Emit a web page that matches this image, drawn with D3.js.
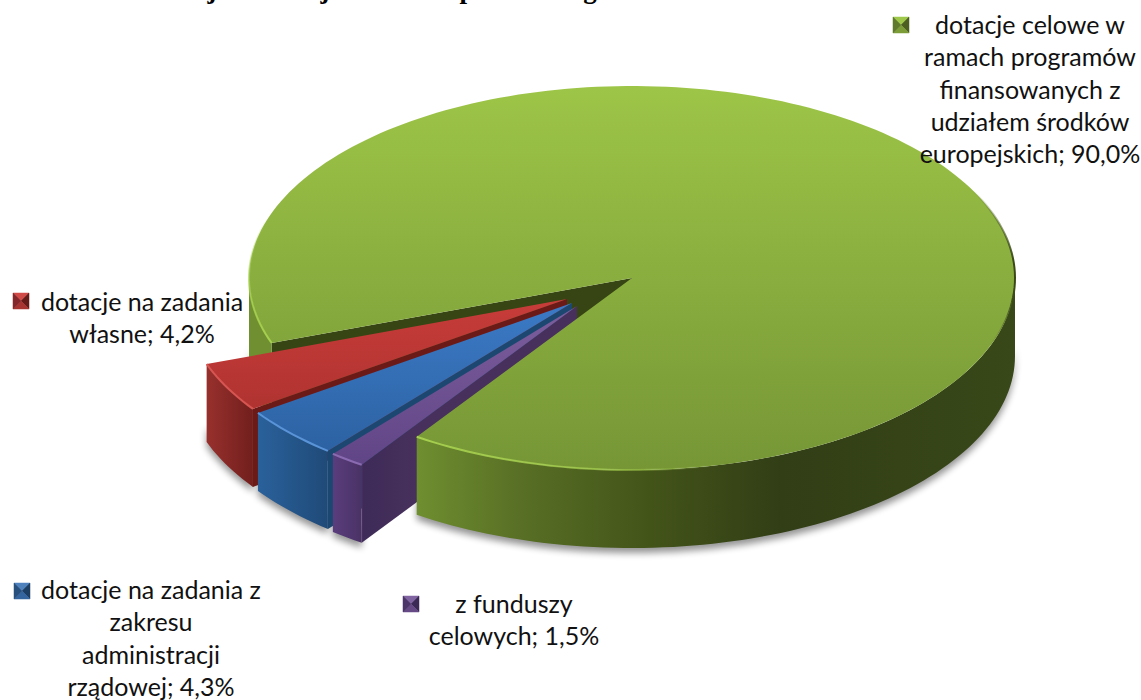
<!DOCTYPE html>
<html>
<head>
<meta charset="utf-8">
<script src="https://cdn.jsdelivr.net/npm/d3@7"></script>
<style>
	html, body { margin: 0; padding: 0; background: #fff; overflow: hidden; }
	svg { display: block; }
	text { font-family: Lato, "Open Sans", sans-serif; fill: #111; }
</style>
</head>
<body>
<svg id="chart" width="1141" height="700"></svg>
<script>
// Chart data. Order follows the pie clockwise.
slice_names = ["celowe", "fundusze", "rzadowe", "wlasne"];
slice_values = [90.0, 1.5, 4.3, 4.2];
slice_labels = [
	["dotacje celowe w", "ramach programów", "finansowanych z", "udziałem środków", "europejskich; 90,0%"],
	["z funduszy", "celowych; 1,5%"],
	["dotacje na zadania z", "zakresu", "administracji", "rządowej; 4,3%"],
	["dotacje na zadania", "własne; 4,2%"]
];
// only the bottoms of these title letters are left in the picture
title_letters = ["j", "j", "p", "g"];

settings = {
	width: 1141,
	height: 700,
	cx: 632,
	cy: 278,
	rx: 383,
	ry: 192,
	depth: 78,
	start_angle: 250.2,
	font_size: 25,
	line_height: 32.3,
	swatch: 16
};

// how far each slice is pulled out of the pie (dx, dy)
explode = { celowe: [0, 0], fundusze: [-55, 28], rzadowe: [-60, 25], wlasne: [-65, 21] };

colors = {
	celowe: { top: ["#9dc547", "#769636"], side: [[415, "#6f8f30"], [520, "#586f25"], [650, "#435419"], [780, "#323e16"], [1015, "#384818"]], wall: "#374514", rim: "#a6d04e", swatch: ["#9fc84a", "#7c9c38", "#4c5f1f", "#5f7a2a"] },
	fundusze: { top: ["#80609f", "#5f4485"], side: [[332, "#5a3d7e"], [362, "#4a3264"], [363, "#3e2b57"], [415, "#47305c"]], wall: "#3e2b57", rim: "#8a6bb0", swatch: ["#8064a2", "#654a86", "#3b2a55", "#4b3569"] },
	rzadowe: { top: ["#3d7cc9", "#2a5f9e"], side: [[258, "#2a619b"], [328, "#1f4a78"]], wall: "#1c4770", rim: "#5a94d8", swatch: ["#4f81bd", "#34659f", "#1d3f66", "#28507f"] },
	wlasne: { top: ["#c93d3a", "#a32e2c"], side: [[207, "#97302d"], [253, "#721f1d"]], wall: "#6c1a18", rim: "#d65552", swatch: ["#d04b48", "#a83431", "#661b19", "#85272a"] }
};

label_places = {
	celowe: { x: 1030, y: 34, sx: 893, sy: 17 },
	fundusze: { x: 514, y: 613, sx: 403, sy: 596 },
	rzadowe: { x: 151, y: 599, sx: 14, sy: 583 },
	wlasne: { x: 142, y: 311, sx: 13, sy: 293 }
};

title_places = [212, 325, 467, 590];

rad = d => d * Math.PI / 180;
deg = r => r * 180 / Math.PI;

svg = d3.select("#chart");
defs = svg.append("defs");

defs.append("filter").attr("id", "soft")
	.attr("x", "-10%").attr("y", "-10%").attr("width", "120%").attr("height", "120%")
	.append("feGaussianBlur").attr("stdDeviation", 3.5);
defs.append("filter").attr("id", "soft_rim")
	.attr("filterUnits", "userSpaceOnUse")
	.attr("x", 0).attr("y", 0).attr("width", settings.width).attr("height", settings.height)
	.append("feGaussianBlur").attr("stdDeviation", 0.7);

function fade_gradient(id, color, x1, y1, x2, y2, stops) {
	grad = defs.append("linearGradient").attr("id", id)
		.attr("gradientUnits", "userSpaceOnUse")
		.attr("x1", x1).attr("y1", y1).attr("x2", x2).attr("y2", y2);
	stops.forEach(s => {
		grad.append("stop").attr("offset", s[0]).attr("stop-color", color).attr("stop-opacity", s[1]);
	});
}
fade_gradient("rim_front", colors.celowe.rim, 415, 0, 720, 0, [[0, 1], [0.6, 0.7], [1, 0]]);
fade_gradient("rim_left", colors.celowe.rim, 0, 345, 0, 215, [[0, 1], [0.5, 0.7], [1, 0]]);
fade_gradient("rim_right", "#3a4a18", 0, 190, 0, 345, [[0, 0], [0.45, 1], [0.7, 1], [1, 0]]);

// unit circle -> flattened ellipse
x_scale = d3.scaleLinear().domain([-1, 1]).range([settings.cx - settings.rx, settings.cx + settings.rx]);
y_scale = d3.scaleLinear().domain([-1, 1]).range([settings.cy - settings.ry, settings.cy + settings.ry]);

function project(angle, off) {
	return [x_scale(Math.sin(angle)) + off[0], y_scale(-Math.cos(angle)) + off[1]];
}

line = d3.line();

function rim_points(a0, a1, off, dy) {
	steps = Math.max(2, Math.ceil(deg(a1 - a0) / 1.5));
	return d3.range(steps + 1).map(i => {
		p = project(a0 + (a1 - a0) * i / steps, off);
		return [p[0], p[1] + dy];
	});
}

function add_gradients(name) {
	c = colors[name];
	top_grad = defs.append("linearGradient").attr("id", "top_" + name)
		.attr("gradientUnits", "userSpaceOnUse")
		.attr("x1", 0).attr("x2", 0)
		.attr("y1", name == "celowe" ? 88 : 290)
		.attr("y2", 470);
	top_grad.append("stop").attr("offset", 0).attr("stop-color", c.top[0]);
	top_grad.append("stop").attr("offset", 1).attr("stop-color", c.top[1]);

	xs = c.side.map(s => s[0]);
	x0 = xs[0];
	x1 = xs[xs.length - 1];
	side_grad = defs.append("linearGradient").attr("id", "side_" + name)
		.attr("gradientUnits", "userSpaceOnUse")
		.attr("x1", x0).attr("x2", x1).attr("y1", 0).attr("y2", 0);
	c.side.forEach(s => {
		side_grad.append("stop").attr("offset", (s[0] - x0) / (x1 - x0)).attr("stop-color", s[1]);
	});
}

slice_names.forEach(add_gradients);

pie = d3.pie().sort(null).value(d => d)
	.startAngle(rad(settings.start_angle))
	.endAngle(rad(settings.start_angle + 360));
arcs = pie(slice_values);
arcs.forEach((d, i) => { d.name = slice_names[i]; d.off = explode[d.name]; });

// the visible front parts of the outer wall
function front_parts(d) {
	parts = [];
	[0, 1].forEach(k => {
		lo = Math.max(d.startAngle, rad(90 + 360 * k));
		hi = Math.min(d.endAngle, rad(270 + 360 * k));
		if (hi > lo) parts.push([lo, hi]);
	});
	return parts;
}

function draw_side(g, d, lo, hi) {
	top_edge = rim_points(lo, hi, d.off, 0);
	bottom_edge = rim_points(lo, hi, d.off, settings.depth).reverse();
	g.append("path")
		.attr("d", line(top_edge.concat(bottom_edge)) + "Z")
		.attr("fill", "url(#side_" + d.name + ")");
}

function draw_wall(g, d) {
	apex = [settings.cx + d.off[0], settings.cy + d.off[1]];
	edge = project(d.startAngle, d.off);
	g.append("path")
		.attr("d", line([apex, edge, [edge[0], edge[1] + settings.depth], [apex[0], apex[1] + settings.depth]]) + "Z")
		.attr("fill", d.name == "fundusze" ? "url(#side_fundusze)" : colors[d.name].wall);
}

function draw_top(g, d) {
	apex = [settings.cx + d.off[0], settings.cy + d.off[1]];
	g.append("path")
		.attr("d", line([apex].concat(rim_points(d.startAngle, d.endAngle, d.off, 0))) + "Z")
		.attr("fill", "url(#top_" + d.name + ")");
}

function draw_rim(g, d, lo, hi, color) {
	g.append("path")
		.attr("d", line(rim_points(lo, hi, d.off, 0)))
		.attr("fill", "none")
		.attr("stroke", color)
		.attr("stroke-width", 2)
		.attr("filter", "url(#soft_rim)");
}

// Shadow under everything
shadow = svg.append("g").attr("filter", "url(#soft)").attr("fill", "#000").attr("opacity", 0.42);
arcs.forEach(d => {
	front_parts(d).forEach(part => {
		shadow.append("path")
			.attr("d", line(rim_points(part[0], part[1], d.off, settings.depth + 5).concat(rim_points(part[0], part[1], d.off, settings.depth - 14).reverse())) + "Z");
	});
});

pie_g = svg.append("g");
green = arcs[0];
green_parts = front_parts(green);

// back of the gap and the little left piece of the green wall
draw_wall(pie_g, green);
left_part = green_parts[0];
draw_side(pie_g, green, left_part[0], left_part[1]);

// pulled-out slices, back to front
[3, 2, 1].forEach(i => {
	d = arcs[i];
	g = pie_g.append("g");
	draw_wall(g, d);
	front_parts(d).forEach(part => draw_side(g, d, part[0], part[1]));
	draw_top(g, d);
	draw_rim(g, d, d.startAngle, d.endAngle, colors[d.name].rim);
});

// green front wall and top go over the purple wall
right_part = green_parts[1];
draw_side(pie_g, green, right_part[0], right_part[1]);
draw_top(pie_g, green);
draw_rim(pie_g, green, green.startAngle, rad(300), "url(#rim_left)");
draw_rim(pie_g, green, rad(520), green.endAngle, "url(#rim_front)");
draw_rim(pie_g, green, rad(360 + 50), rad(360 + 112), "url(#rim_right)");

// Legend entries
function draw_swatch(g, name, x0, y0) {
	s = settings.swatch;
	c = colors[name].swatch;
	mid = [x0 + s / 2, y0 + s / 2];
	corners = [[x0, y0], [x0 + s, y0], [x0 + s, y0 + s], [x0, y0 + s]];
	[0, 1, 2, 3].forEach(k => {
		// top, right, bottom, left
		fill = [c[0], c[2], c[1], c[3]][k];
		g.append("path")
			.attr("d", line([corners[k], corners[(k + 1) % 4], mid]) + "Z")
			.attr("fill", fill)
			.attr("stroke", fill)
			.attr("stroke-width", 0.5);
	});
}

legend = svg.append("g");
slice_names.forEach((name, i) => {
	place = label_places[name];
	draw_swatch(legend, name, place.sx, place.sy);
	legend.append("g").selectAll("text")
		.data(slice_labels[i])
		.enter().append("text")
		.attr("x", place.x)
		.attr("y", (d, k) => place.y + k * settings.line_height)
		.attr("text-anchor", "middle")
		.attr("font-size", settings.font_size)
		.text(d => d);
});

// Title, cut off by the top of the picture
svg.append("g").selectAll("text")
	.data(title_letters)
	.enter().append("text")
	.attr("x", (d, i) => title_places[i])
	.attr("y", -2)
	.attr("text-anchor", "middle")
	.style("font-family", "'Liberation Serif', serif")
	.style("font-weight", "bold")
	.style("fill", "#000")
	.attr("font-size", 27)
	.text(d => d);
</script>
</body>
</html>
